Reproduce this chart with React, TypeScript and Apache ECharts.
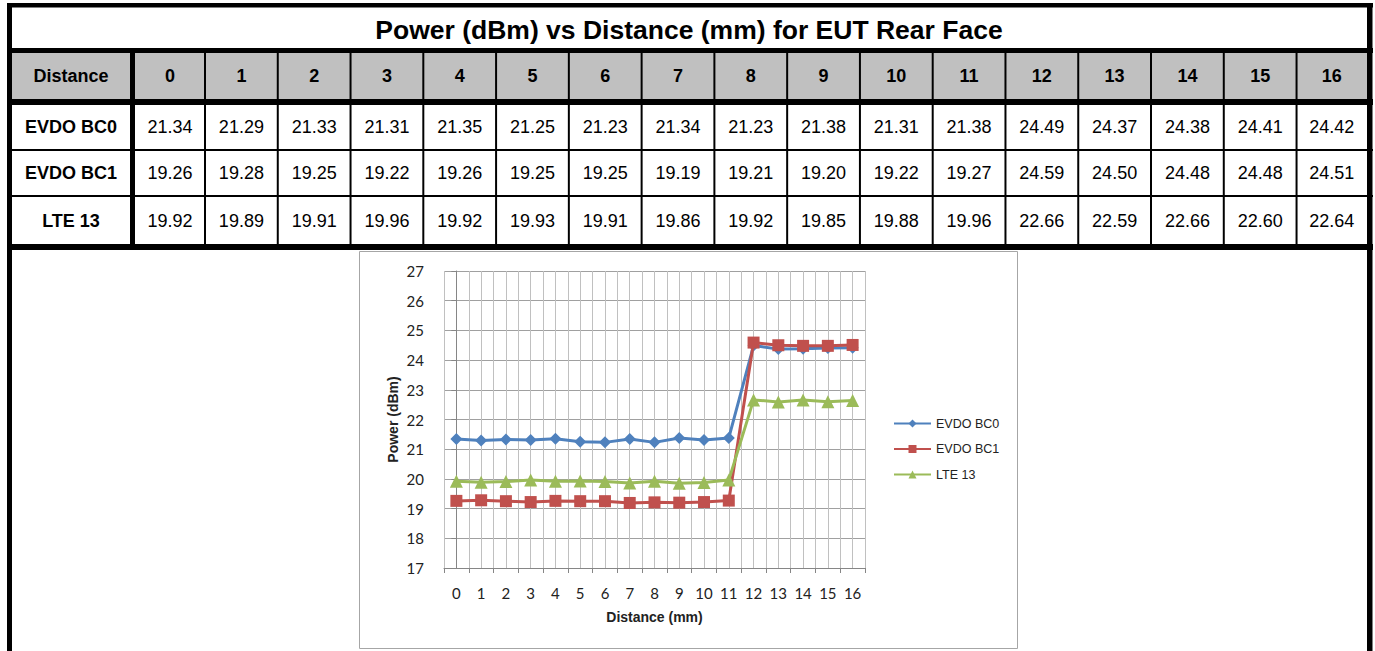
import React, { useEffect, useRef } from "react";
import * as echarts from "echarts";

const title = "Power (dBm) vs Distance (mm) for EUT Rear Face";
const headerLabel = "Distance";
const distances = ["0", "1", "2", "3", "4", "5", "6", "7", "8", "9", "10", "11", "12", "13", "14", "15", "16"];
const seriesNames = ["EVDO BC0", "EVDO BC1", "LTE 13"];
const evdoBC0 = [21.34, 21.29, 21.33, 21.31, 21.35, 21.25, 21.23, 21.34, 21.23, 21.38, 21.31, 21.38, 24.49, 24.37, 24.38, 24.41, 24.42];
const evdoBC1 = [19.26, 19.28, 19.25, 19.22, 19.26, 19.25, 19.25, 19.19, 19.21, 19.2, 19.22, 19.27, 24.59, 24.5, 24.48, 24.48, 24.51];
const lte13 = [19.92, 19.89, 19.91, 19.96, 19.92, 19.93, 19.91, 19.86, 19.92, 19.85, 19.88, 19.96, 22.66, 22.59, 22.66, 22.6, 22.64];
const seriesColors = ["#4F81BD", "#C0504D", "#9BBB59"];
const seriesSymbols = ["diamond", "rect", "triangle"];
const seriesSymbolSizes = [12, 12, 13];
const yTicks = { min: 17, max: 27, interval: 1 };
const xAxisTitle = "Distance (mm)";
const yAxisTitle = "Power (dBm)";

const ARIAL = '"Liberation Sans", Arial, sans-serif';

function buildTable(): any[] {
  const els: any[] = [];
  const black = "#000";
  const L = 7, R = 1373, W = R - L;
  const rect = (x: number, y: number, w: number, h: number, fill: string) => ({
    type: "rect",
    shape: { x, y, width: w, height: h },
    style: { fill },
    silent: true,
  });
  const text = (t: string, x: number, y: number, font: string) => ({
    type: "text",
    x,
    y,
    style: { text: t, font, fill: "#000", align: "center", verticalAlign: "middle", textAlign: "center", textVerticalAlign: "middle" },
    silent: true,
  });
  // header fill
  els.push(rect(12, 53, 1355, 46, "#c0c0c0"));
  // outer frame and horizontal rules
  els.push(rect(L, 3, W, 4.5, black));
  els.push(rect(L, 3, 5, 648, black));
  els.push(rect(1367, 3, 5.5, 648, black));
  els.push(rect(L, 48, W, 5, black));
  els.push(rect(L, 99, W, 6, black));
  els.push(rect(L, 149, W, 2, black));
  els.push(rect(L, 195, W, 2, black));
  els.push(rect(L, 244, W, 6, black));
  // label column separator
  els.push(rect(130, 53, 5, 191, black));
  const colStep = 72.77;
  const firstLine = 205;
  for (let i = 0; i < distances.length - 1; i++) {
    els.push(rect(firstLine + i * colStep - 1, 53, 2, 191, black));
  }
  const colCenter = (i: number) =>
    i === 0 ? (135 + firstLine) / 2 : i === distances.length - 1 ? (firstLine + (i - 1) * colStep + 1367) / 2 : firstLine + (i - 0.5) * colStep;
  // title
  els.push(text(title, 689, 30, `bold 26.5px ${ARIAL}`));
  // header
  const rowCenters = [76, 127, 173, 220.5];
  els.push(text(headerLabel, 71, rowCenters[0], `bold 18px ${ARIAL}`));
  distances.forEach((d, i) => els.push(text(d, colCenter(i), rowCenters[0], `bold 18px ${ARIAL}`)));
  const rows = [evdoBC0, evdoBC1, lte13];
  rows.forEach((vals, r) => {
    els.push(text(seriesNames[r], 71, rowCenters[r + 1], `bold 18px ${ARIAL}`));
    vals.forEach((v, i) => els.push(text(v.toFixed(2), colCenter(i), rowCenters[r + 1], `18px ${ARIAL}`)));
  });
  // chart frame
  els.push({
    type: "rect",
    shape: { x: 359.5, y: 251.5, width: 658, height: 397 },
    style: { fill: "none", stroke: "#a6a6a6", lineWidth: 1 },
    silent: true,
  });
  return els;
}

export default function App() {
  const ref = useRef<HTMLDivElement>(null);
  useEffect(() => {
    if (!ref.current) return;
    const chart = echarts.init(ref.current, null, { renderer: "svg" });
    const axisGray = "#868686";
    const option: any = {
      animation: false,
      backgroundColor: "#fff",
      grid: { left: 444, top: 271, width: 421, height: 297, containLabel: false },
      xAxis: [
        {
          type: "category",
          data: distances,
          boundaryGap: true,
          axisLine: { show: true, lineStyle: { color: axisGray, width: 1 } },
          axisTick: { show: true, length: 5, lineStyle: { color: axisGray } },
          axisLabel: { interval: 0, margin: 17, fontFamily: "Lato", fontSize: 15, color: "#222" },
          splitLine: { show: true, lineStyle: { color: "#a0a0a0", width: 1 } },
          name: xAxisTitle,
          nameLocation: "middle",
          nameGap: 42,
          nameTextStyle: { fontFamily: ARIAL, fontWeight: "bold", fontSize: 14, color: "#222" },
        },
        {
          type: "value",
          min: -0.5,
          max: 16.5,
          interval: 0.5,
          position: "bottom",
          axisLine: { show: false },
          axisTick: { show: false },
          axisLabel: { show: false },
          splitLine: { show: true, lineStyle: { color: "#c0c0c0", width: 1 } },
        },
      ],
      yAxis: {
        type: "value",
        min: yTicks.min,
        max: yTicks.max,
        interval: yTicks.interval,
        axisLine: { show: true, lineStyle: { color: axisGray } },
        axisTick: { show: true, length: 5, lineStyle: { color: axisGray } },
        axisLabel: { margin: 20, fontFamily: "Lato", fontSize: 15, color: "#222" },
        splitLine: { show: true, lineStyle: { color: "#a0a0a0", width: 1 } },
        name: yAxisTitle,
        nameLocation: "middle",
        nameGap: 44,
        nameRotate: 90,
        nameTextStyle: { fontFamily: ARIAL, fontWeight: "bold", fontSize: 14, color: "#222" },
      },
      legend: {
        orient: "vertical",
        left: 888,
        top: 412,
        itemWidth: 37,
        itemHeight: 10,
        itemGap: 12.5,
        data: seriesNames,
        textStyle: { fontFamily: ARIAL, fontSize: 12.5, color: "#222" },
      },
      series: [evdoBC0, evdoBC1, lte13].map((vals, i) => ({
        name: seriesNames[i],
        type: "line",
        xAxisIndex: 0,
        data: vals,
        symbol: seriesSymbols[i],
        symbolSize: seriesSymbolSizes[i],
        showAllSymbol: true,
        lineStyle: { color: seriesColors[i], width: 3 },
        itemStyle: { color: seriesColors[i] },
        z: 3 + i,
      })),
      graphic: buildTable(),
    };
    chart.setOption(option);
    return () => chart.dispose();
  }, []);
  return <div ref={ref} style={{ position: "absolute", left: 0, top: 0, width: 1375, height: 651 }} />;
}
